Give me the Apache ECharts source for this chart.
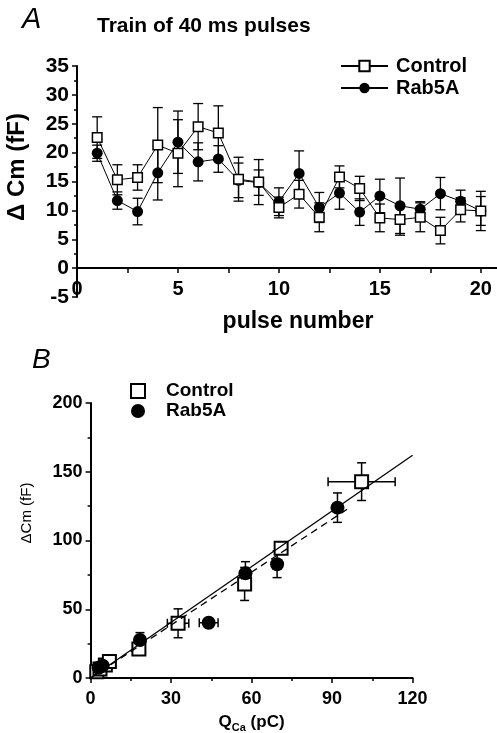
<!DOCTYPE html>
<html>
<head>
<meta charset="utf-8">
<script src="https://cdn.jsdelivr.net/npm/echarts@6/dist/echarts.min.js"></script>
<style>
html, body { margin: 0; padding: 0; background: #fff; }
#chart { width: 497px; height: 733px; }
</style>
</head>
<body>
<div id="chart"></div>
<script>
// panel A: train of pulses
const pulses = [1, 2, 3, 4, 5, 6, 7, 8, 9, 10, 11, 12, 13, 14, 15, 16, 17, 18, 19, 20];
const ctrlA = [22.6, 15.3, 15.7, 21.3, 19.9, 24.5, 23.4, 15.4, 14.9, 10.5, 12.8, 8.8, 15.8, 13.8, 8.7, 8.4, 8.8, 6.5, 10.1, 9.9];
const ctrlAErr = [3.6, 2.6, 2.2, 6.5, 5.8, 4.0, 4.7, 3.8, 3.9, 1.8, 2.4, 2.5, 1.9, 2.1, 2.4, 2.7, 2.5, 2.3, 2.1, 3.4];
const rabA = [19.9, 11.7, 9.8, 16.5, 21.8, 18.4, 18.9, 15.2, 14.8, 11.5, 16.4, 10.5, 13.0, 9.7, 12.5, 10.8, 10.2, 12.9, 11.6, 9.9];
const rabAErr = [1.4, 1.5, 2.3, 4.7, 5.4, 3.3, 2.3, 3.0, 2.2, 2.4, 3.9, 2.6, 2.8, 2.3, 2.9, 4.8, 1.3, 2.8, 1.9, 2.5];

// panel B: dCm vs QCa   [x, y]   and errors [ex, ey]
const ctrlB = [[2.3, 4.5], [3.5, 6.5], [5.5, 9.5], [7, 12], [18, 21.1], [32.6, 39.8], [57.4, 68.4], [71, 94.3], [101, 142.8]];
const ctrlBErr = [[1, 1.5], [1, 1.5], [1, 2], [1.5, 2.5], [1, 3], [4, 10.5], [1, 12], [1.5, 3], [12.5, 13.7]];
const rabB = [[3, 7.5], [4.5, 9], [18.4, 27.6], [44, 40.2], [57.7, 76.1], [69.5, 82.7], [92, 123.9]];
const rabBErr = [[1, 2], [1, 2], [1, 5.4], [3.5, 2], [1, 8.5], [1, 9.7], [1, 10.7]];
const fitSolid = [[0, 0], [120, 162]];
const fitDashed = [[0, 0], [97, 124.5]];

const FONT = 'Liberation Sans, Arial, sans-serif';

const errA = [];
pulses.forEach((p, i) => {
    errA.push([p, rabA[i], 0, rabAErr[i]]);
    errA.push([p, ctrlA[i], 0, ctrlAErr[i]]);
});
const errB = [];
ctrlB.forEach((d, i) => errB.push([d[0], d[1], ctrlBErr[i][0], ctrlBErr[i][1]]));
rabB.forEach((d, i) => errB.push([d[0], d[1], rabBErr[i][0], rabBErr[i][1]]));

const errBars = (cap, lw) => function (params, api) {
    const x = api.value(0), y = api.value(1), ex = api.value(2), ey = api.value(3);
    const style = { stroke: '#000', lineWidth: lw };
    const kids = [];
    const seg = (x1, y1, x2, y2) => kids.push({ type: 'line', shape: { x1, y1, x2, y2 }, style });
    if (ey > 0) {
        const a = api.coord([x, y + ey]), b = api.coord([x, y - ey]);
        seg(a[0], a[1], b[0], b[1]);
        seg(a[0] - cap, a[1], a[0] + cap, a[1]);
        seg(b[0] - cap, b[1], b[0] + cap, b[1]);
    }
    if (ex > 0) {
        const a = api.coord([x - ex, y]), b = api.coord([x + ex, y]);
        seg(a[0], a[1], b[0], b[1]);
        seg(a[0], a[1] - cap, a[0], a[1] + cap);
        seg(b[0], b[1] - cap, b[0], b[1] + cap);
    }
    return { type: 'group', children: kids };
};

const tickLabel = { color: '#000', fontFamily: FONT, fontWeight: 'bold', fontSize: 19, hideOverlap: false };
const axTick = { length: 5, lineStyle: { color: '#000', width: 1.5 } };
const minor = { show: true, splitNumber: 2, length: 3, lineStyle: { color: '#000', width: 1.5 } };
const axLine = { onZero: false, lineStyle: { color: '#000', width: 2 } };

const chart = echarts.init(document.getElementById('chart'));
const option = {
    animation: false,
    backgroundColor: '#fff',
    title: [
        { text: 'A', left: 22, top: 5, padding: 0, textStyle: { fontFamily: FONT, fontStyle: 'italic', fontWeight: 'normal', fontSize: 29, color: '#000' } },
        { text: 'Train of 40 ms pulses', left: 97, top: 16, padding: 0, textStyle: { fontFamily: FONT, fontWeight: 'bold', fontSize: 21, color: '#000' } },
        { text: 'B', left: 32, top: 346, padding: 0, textStyle: { fontFamily: FONT, fontStyle: 'italic', fontWeight: 'normal', fontSize: 28, color: '#000' } }
    ],
    graphic: [
        { type: 'text', x: 17, y: 167, rotation: Math.PI / 2, style: { text: 'Δ Cm (fF)', font: 'bold 24px ' + FONT, fill: '#000', align: 'center', verticalAlign: 'middle' } },
        { type: 'text', x: 27, y: 513, rotation: Math.PI / 2, style: { text: 'ΔCm (fF)', font: '15px ' + FONT, fill: '#000', align: 'center', verticalAlign: 'middle' } }
    ],
    legend: [
        {
            left: 340, top: 55, orient: 'vertical', itemGap: 0, padding: 0,
            itemWidth: 47, itemHeight: 13,
            data: ['Control', 'Rab5A'],
            textStyle: { fontFamily: FONT, fontWeight: 'bold', fontSize: 20, color: '#000', lineHeight: 22, padding: [0, 0, 0, 3] }
        },
        {
            left: 130, top: 381, orient: 'vertical', itemGap: 0, padding: 0,
            itemWidth: 14, itemHeight: 14,
            data: [
                { name: 'Control', icon: 'rect', itemStyle: { color: '#fff', borderColor: '#000', borderWidth: 2 } },
                { name: 'Rab5A', icon: 'circle', itemStyle: { color: '#000' } }
            ],
            textStyle: { fontFamily: FONT, fontWeight: 'bold', fontSize: 19, color: '#000', lineHeight: 20, padding: [0, 0, 0, 16] }
        }
    ],
    grid: [
        { left: 77, top: 66, width: 424, height: 231, outerBoundsMode: 'none' },
        { left: 90.6, top: 403, width: 322, height: 275, outerBoundsMode: 'none' }
    ],
    xAxis: [
        {
            // x axis sits on y = 0, which is 29 px above the grid bottom
            gridIndex: 0, type: 'value', min: 0, max: 21, interval: 5, offset: -29,
            splitLine: { show: false }, axisLine: axLine, axisTick: axTick,
            minorTick: Object.assign({}, minor, { length: 5 }),
            axisLabel: Object.assign({}, tickLabel, { margin: 11, fontSize: 20, formatter: v => (v % 5 === 0 ? v : '') }),
            name: 'pulse number', nameLocation: 'middle', nameGap: 42,
            nameTextStyle: { fontFamily: FONT, fontWeight: 'bold', fontSize: 23, color: '#000', padding: [0, 0, 0, 18] }
        },
        {
            gridIndex: 1, type: 'value', min: 0, max: 120, interval: 30,
            splitLine: { show: false }, axisLine: axLine, axisTick: axTick, minorTick: minor,
            axisLabel: Object.assign({}, tickLabel, { margin: 12, fontSize: 18 }),
            name: '{q|Q}{s|Ca}{q| (pC)}', nameLocation: 'middle', nameGap: 33,
            nameTextStyle: {
                rich: {
                    q: { fontFamily: FONT, fontWeight: 'bold', fontSize: 17, color: '#000', lineHeight: 22 },
                    s: { fontFamily: FONT, fontWeight: 'bold', fontSize: 11, color: '#000', lineHeight: 12, verticalAlign: 'bottom' }
                }
            }
        }
    ],
    yAxis: [
        {
            gridIndex: 0, type: 'value', min: -5, max: 35, interval: 5,
            splitLine: { show: false }, axisLine: axLine, axisTick: axTick, minorTick: minor,
            axisLabel: Object.assign({}, tickLabel, { margin: 8, fontSize: 21 })
        },
        {
            gridIndex: 1, type: 'value', min: 0, max: 200, interval: 50,
            splitLine: { show: false }, axisLine: axLine, axisTick: axTick, minorTick: minor,
            axisLabel: Object.assign({}, tickLabel, { margin: 8, fontSize: 18 })
        }
    ],
    series: [
        {
            type: 'custom', xAxisIndex: 0, yAxisIndex: 0,
            renderItem: errBars(5, 1.3), data: errA, encode: { x: 0, y: 1 }, silent: true
        },
        {
            name: 'Rab5A', type: 'line', xAxisIndex: 0, yAxisIndex: 0,
            data: pulses.map((p, i) => [p, rabA[i]]),
            symbol: 'circle', symbolSize: 11,
            itemStyle: { color: '#000' },
            lineStyle: { color: '#000', width: 1 }
        },
        {
            name: 'Control', type: 'line', xAxisIndex: 0, yAxisIndex: 0,
            data: pulses.map((p, i) => [p, ctrlA[i]]),
            symbol: 'rect', symbolSize: 9.5,
            itemStyle: { color: '#fff', borderColor: '#000', borderWidth: 1.5 },
            lineStyle: { color: '#000', width: 1 }
        },
        {
            type: 'custom', xAxisIndex: 1, yAxisIndex: 1,
            renderItem: errBars(4.5, 1.5), data: errB, encode: { x: 0, y: 1 }, silent: true
        },
        {
            type: 'line', xAxisIndex: 1, yAxisIndex: 1, data: fitSolid,
            symbol: 'none', lineStyle: { color: '#000', width: 1.3 }, silent: true
        },
        {
            type: 'line', xAxisIndex: 1, yAxisIndex: 1, data: fitDashed,
            symbol: 'none', lineStyle: { color: '#000', width: 1.3, type: [7, 5] }, silent: true
        },
        {
            name: 'Control', type: 'scatter', xAxisIndex: 1, yAxisIndex: 1,
            data: ctrlB, symbol: 'rect', symbolSize: 13,
            itemStyle: { color: '#fff', borderColor: '#000', borderWidth: 2, opacity: 1 }
        },
        {
            name: 'Rab5A', type: 'scatter', xAxisIndex: 1, yAxisIndex: 1,
            data: rabB, symbol: 'circle', symbolSize: 14,
            itemStyle: { color: '#000', opacity: 1 }
        }
    ]
};
option && chart.setOption(option);
</script>
</body>
</html>
